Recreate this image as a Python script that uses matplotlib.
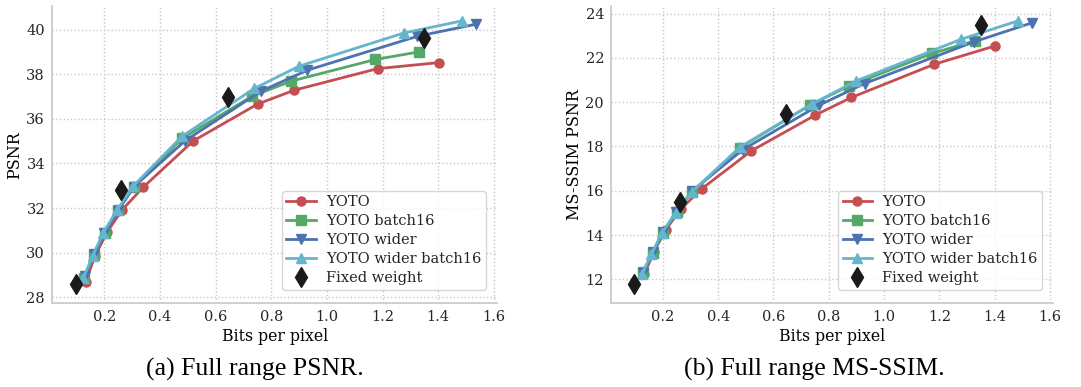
import matplotlib
matplotlib.use("Agg")
import matplotlib.pyplot as plt

# bits per pixel of each run, per series
bpp_yoto = [0.133, 0.168, 0.21, 0.264, 0.34, 0.52, 0.751, 0.882, 1.182, 1.402]
bpp_batch16 = [0.128, 0.164, 0.202, 0.25, 0.307, 0.48, 0.731, 0.872, 1.174, 1.33]
bpp_wider = [0.13, 0.164, 0.201, 0.249, 0.307, 0.49, 0.765, 0.93, 1.325, 1.535]
bpp_wider_b16 = [0.125, 0.159, 0.196, 0.246, 0.305, 0.48, 0.739, 0.9, 1.277, 1.485]
bpp_fixed = [0.097, 0.262, 0.646, 1.35]

# (a) PSNR
psnr_yoto = [28.70, 29.87, 30.91, 31.91, 32.93, 35.01, 36.66, 37.28, 38.25, 38.52]
psnr_batch16 = [28.85, 29.90, 30.90, 31.91, 32.96, 35.12, 37.01, 37.69, 38.66, 39.00]
psnr_wider = [28.93, 29.94, 30.87, 31.87, 32.96, 35.01, 37.25, 38.18, 39.70, 40.24]
psnr_wider_b16 = [28.85, 29.87, 30.87, 31.91, 32.99, 35.22, 37.36, 38.36, 39.85, 40.39]
psnr_fixed = [28.60, 32.81, 36.96, 39.64]

# (b) MS-SSIM PSNR
ms_yoto = [12.24, 13.25, 14.23, 15.16, 16.08, 17.80, 19.41, 20.21, 21.71, 22.54]
ms_batch16 = [12.35, 13.17, 14.11, 15.05, 15.95, 17.94, 19.86, 20.72, 22.20, 22.77]
ms_wider = [12.27, 13.22, 14.12, 15.05, 16.00, 17.86, 19.86, 20.84, 22.72, 23.58]
ms_wider_b16 = [12.24, 13.14, 14.08, 15.01, 15.95, 17.98, 19.91, 20.96, 22.83, 23.67]
ms_fixed = [11.77, 15.47, 19.46, 23.47]

labels = ["YOTO", "YOTO batch16", "YOTO wider", "YOTO wider batch16"]
colors = ["#C44E52", "#55A868", "#4C72B0", "#64B5CD"]
markers = ["o", "s", "v", "^"]

plt.rcParams["font.family"] = ["DejaVu Serif"]
plt.rcParams["text.color"] = "#262626"
plt.rcParams["xtick.color"] = "#262626"
plt.rcParams["ytick.color"] = "#262626"


def panel(ax, ys, fixed, ylabel, ylim, yticks):
    xs = [bpp_yoto, bpp_batch16, bpp_wider, bpp_wider_b16]
    for x, y, lab, c, m in zip(xs, ys, labels, colors, markers):
        ax.plot(x, y, color=c, marker=m, markersize=6.5, linewidth=2, label=lab)
    ax.plot(bpp_fixed, fixed, linestyle="none", marker="d", markersize=10,
            color="#1a1a1a", label="Fixed weight")
    ax.set_xlim(0.0125, 1.6125)
    ax.set_ylim(*ylim)
    ax.set_xticks([0.2, 0.4, 0.6, 0.8, 1.0, 1.2, 1.4, 1.6])
    ax.set_yticks(yticks)
    ax.grid(True, linestyle=":", color="#c8c8c8", linewidth=1)
    ax.set_axisbelow(True)
    for s in ["top", "right"]:
        ax.spines[s].set_visible(False)
    for s in ["left", "bottom"]:
        ax.spines[s].set_color("#cccccc")
        ax.spines[s].set_linewidth(1.3)
    ax.tick_params(length=0, labelsize=10.5, pad=5)
    ax.set_xlabel("Bits per pixel", fontsize=11.3, labelpad=3)
    ax.set_ylabel(ylabel, fontsize=11.5, labelpad=2)
    leg = ax.legend(loc="lower right", fontsize=10.5, frameon=True, fancybox=True,
                    borderpad=0.3, labelspacing=0.35, handlelength=2.0,
                    handletextpad=0.7, bbox_to_anchor=(0.99, 0.02))
    leg.get_frame().set_edgecolor("#cccccc")
    leg.get_frame().set_linewidth(1)


fig = plt.figure(figsize=(10.81, 3.87), dpi=100)
ax1 = fig.add_axes([0.0481, 0.217, 0.412, 0.767])
ax2 = fig.add_axes([0.5652, 0.217, 0.4093, 0.767])

panel(ax1, [psnr_yoto, psnr_batch16, psnr_wider, psnr_wider_b16], psnr_fixed,
      "PSNR", (27.74, 41.05), [28, 30, 32, 34, 36, 38, 40])
panel(ax2, [ms_yoto, ms_batch16, ms_wider, ms_wider_b16], ms_fixed,
      "MS-SSIM PSNR", (10.93, 24.33), [12, 14, 16, 18, 20, 22, 24])

fig.text(0.236, 0.045, "(a) Full range PSNR.", ha="center", va="center",
         fontsize=18.5, family="Liberation Serif", color="black")
fig.text(0.753, 0.045, "(b) Full range MS-SSIM.", ha="center", va="center",
         fontsize=18.5, family="Liberation Serif", color="black")

fig.savefig("out.png", dpi=100)
